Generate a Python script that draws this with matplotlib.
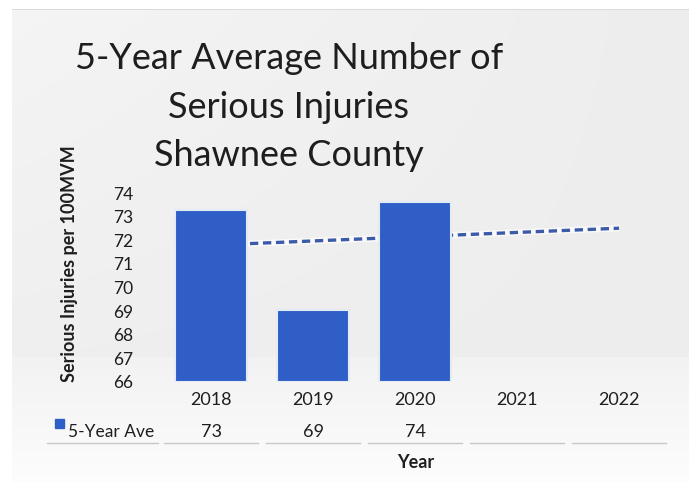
import numpy as np
import matplotlib
matplotlib.use("Agg")
import matplotlib.pyplot as plt
from matplotlib import transforms

plt.rcParams['font.family'] = ['Lato', 'DejaVu Sans']

# 5-year average serious injuries per 100MVM, Shawnee County
years = ['2018', '2019', '2020', '2021', '2022']
five_year_ave = [73.26, 69.03, 73.62]
series_name = '5-Year Ave'
title_lines = ['5-Year Average Number of', 'Serious Injuries', 'Shawnee County']

bar_color = '#2f5fc6'
trend_color = '#3b5aa8'
text_color = '#1e1e1e'

W, H = 689, 482
fig = plt.figure(figsize=(W / 100, H / 100), dpi=100)

# soft grey backdrop, lighter "floor" under the plot
bg = fig.add_axes([0, 0, 1, 1], zorder=-10)
yy = np.linspace(0, 1, H)[:, None]
xx = np.linspace(0, 1, W)[None, :]
shade = 0.93 + 0.03 * (1 - yy) * (1 - xx) + 0.0 * xx
floor = yy > 357 / H
shade = np.where(floor, 0.95 + 0.04 * (yy - 357 / H) / (1 - 357 / H), shade)
shade[:9, :] = 1.0
shade[9:10, :] = 0.86
shade[:, :12] = 1.0
bg.imshow(np.dstack([shade] * 3), aspect='auto', extent=[0, 1, 0, 1], origin='upper')
bg.set_axis_off()

ax = fig.add_axes([160 / W, 1 - 382 / H, 510 / W, 189 / H])
ax.patch.set_alpha(0)
x = np.arange(len(years))
xb = x[:len(five_year_ave)]

ax.bar(xb, [v - 66 for v in five_year_ave], bottom=66, width=0.71,
       color=bar_color, edgecolor='#e4ebf7', linewidth=1.5, zorder=3)

# linear trendline over the available points, extended to the last year
k, b = np.polyfit(xb, five_year_ave, 1)
ax.plot(x, k * x + b, color='white', lw=4.5, alpha=0.7, zorder=2,
        solid_capstyle='butt')
ax.plot(x, k * x + b, color=trend_color, lw=2.4, ls=(0, (2.5, 1.4)), zorder=2.5)

ax.set_xlim(-0.5, len(years) - 0.5)
ax.set_ylim(66, 74)
ax.set_yticks(range(66, 75))
ax.tick_params(axis='y', length=0, pad=19, labelsize=12.5, labelcolor=text_color)
ax.set_xticks(x)
ax.set_xticklabels(years)
ax.tick_params(axis='x', length=0, pad=7, labelsize=13, labelcolor=text_color)
for s in ax.spines.values():
    s.set_visible(False)

fig.text(70 / W, 1 - 264 / H, 'Serious Injuries per 100MVM', rotation=90,
         ha='center', va='center', fontsize=13, fontweight='bold', color=text_color)

fig.text(289 / W, 1 - 107 / H, '\n'.join(title_lines), ha='center', va='center',
         fontsize=26, linespacing=1.56, color=text_color)

# data table row under the categories
tr = transforms.blended_transform_factory(ax.transData, fig.transFigure)
row_y = 1 - 432 / H
for i, v in enumerate(five_year_ave):
    ax.text(i, row_y, f'{v:.0f}', transform=tr, ha='center', va='center',
            fontsize=13, color=text_color)
fig.patches.append(plt.Rectangle((55 / W, 1 - 428 / H), 9 / W, 9 / H,
                                 transform=fig.transFigure, color=bar_color))
fig.text(68 / W, row_y, series_name, ha='left', va='center', fontsize=12.5,
         color=text_color)

line_y = 1 - 443 / H
fig.add_artist(plt.Line2D([47 / W, 158 / W], [line_y, line_y],
                          transform=fig.transFigure, color='#c8c8c8', lw=1))
for i in x:
    ax.add_artist(plt.Line2D([i - 0.46, i + 0.46], [line_y, line_y],
                             transform=tr, color='#c8c8c8', lw=1, clip_on=False))

fig.text(416 / W, 1 - 462 / H, 'Year', ha='center', va='center', fontsize=13,
         fontweight='bold', color=text_color)

fig.savefig('out.png', dpi=100)
